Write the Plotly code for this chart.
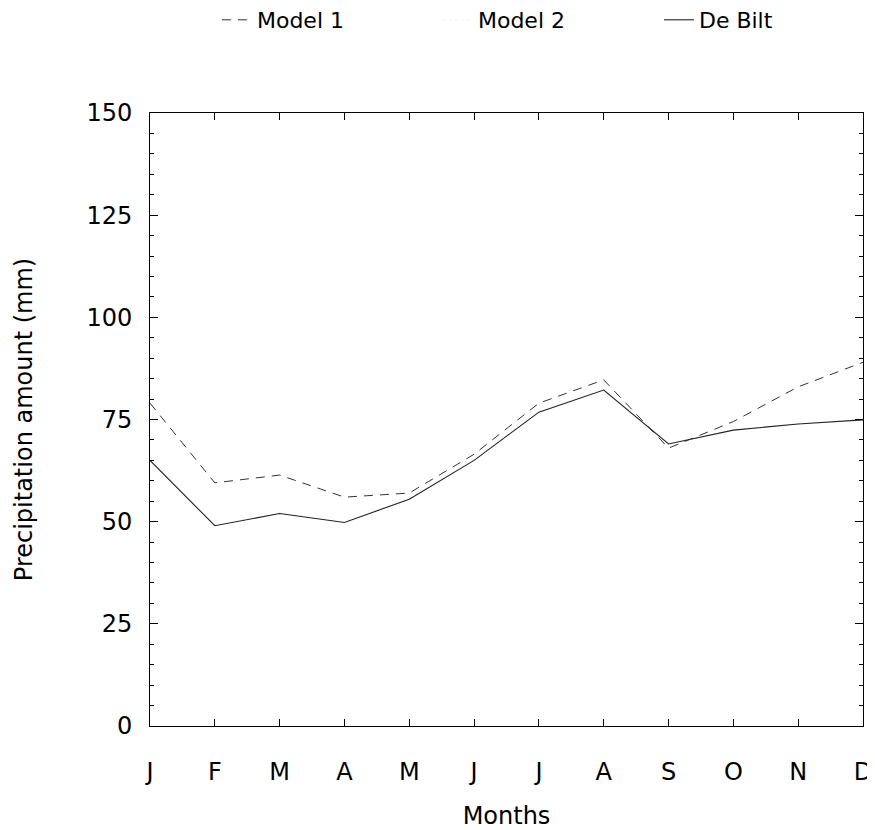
import plotly.graph_objects as go

months = ["J", "F", "M", "A", "M", "J", "J", "A", "S", "O", "N", "D"]
model1 = [79, 59.5, 61.4, 56, 57, 66.5, 79, 84.7, 68, 74.5, 83, 89]
model2 = [65.5, 49.2, 52.2, 49.8, 55.8, 65.2, 77, 82.3, 69.2, 72.4, 73.9, 75]
de_bilt = [65, 49, 52, 49.8, 55.5, 65, 76.8, 82.2, 69, 72.4, 73.9, 74.9]

x = list(range(len(months)))
FONT = "DejaVu Sans, Liberation Sans, Arial, sans-serif"
FS = 24

fig = go.Figure()
fig.add_trace(go.Scatter(x=x, y=model1, name="Model 1", mode="lines",
                         line=dict(color="#333333", width=1, dash="9px,7px")))
fig.add_trace(go.Scatter(x=x, y=model2, name="Model 2", mode="lines",
                         line=dict(color="rgba(200,200,200,0.25)", width=1, dash="dot")))
fig.add_trace(go.Scatter(x=x, y=de_bilt, name="De Bilt", mode="lines",
                         line=dict(color="#222222", width=1.1)))

fig.update_layout(
    width=867, height=822,
    margin=dict(l=142, r=12, t=105, b=104),
    paper_bgcolor="white", plot_bgcolor="white",
    font=dict(family=FONT, size=FS, color="black"),
    showlegend=True,
    legend=dict(orientation="h", xref="container", yref="container",
                x=0.241, xanchor="left", y=0.9854, yanchor="middle",
                entrywidth=176, entrywidthmode="pixels",
                font=dict(size=22, family=FONT), bgcolor="rgba(0,0,0,0)"),
)
fig.update_xaxes(
    range=[0, 11], tickmode="array", tickvals=x, ticktext=months,
    ticks="inside", ticklen=7, tickcolor="black", tickwidth=1,
    showline=True, linecolor="black", linewidth=1, mirror="ticks",
    showgrid=False, zeroline=False, automargin=False,
    ticklabelstandoff=24,
    tickfont=dict(size=FS),
    title=dict(text="Months", font=dict(size=FS), standoff=27),
)
fig.update_yaxes(
    range=[0, 150], dtick=25, tick0=0,
    ticks="inside", ticklen=8, tickcolor="black", tickwidth=1,
    minor=dict(dtick=5, ticks="inside", ticklen=4, tickcolor="black", showgrid=False),
    showline=True, linecolor="black", linewidth=1, mirror="ticks",
    showgrid=False, zeroline=False, automargin=False,
    ticklabelstandoff=12,
    tickfont=dict(size=FS),
    title=dict(text="Precipitation amount (mm)", font=dict(size=FS), standoff=46),
)

fig.write_html("out.html")
